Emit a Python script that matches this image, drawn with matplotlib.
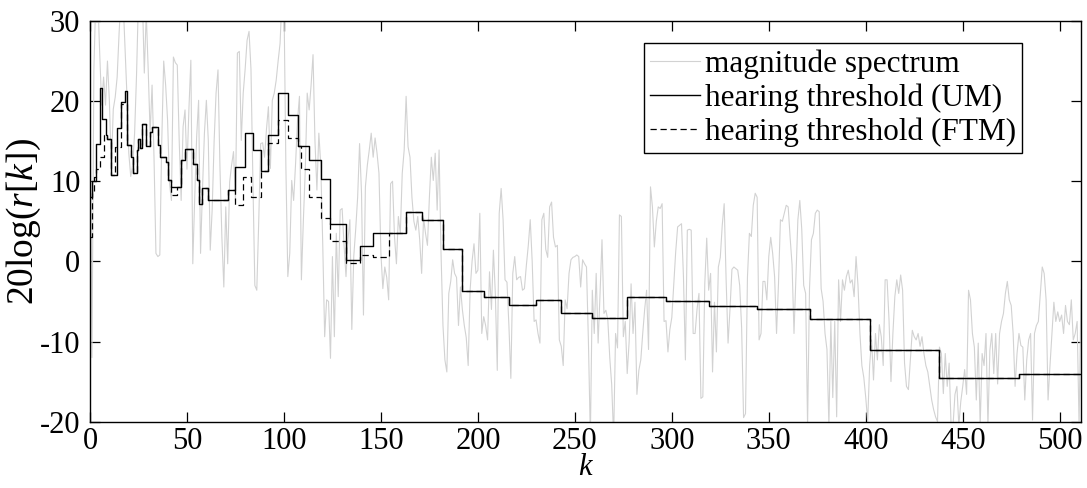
import numpy as np
import matplotlib
matplotlib.use("Agg")
import matplotlib.pyplot as plt

plt.rcParams['font.family'] = ['Liberation Serif', 'DejaVu Serif']
plt.rcParams['mathtext.fontset'] = 'custom'
plt.rcParams['mathtext.rm'] = 'Liberation Serif'
plt.rcParams['mathtext.it'] = 'Liberation Serif:italic'
plt.rcParams['axes.unicode_minus'] = False

# magnitude spectrum in dB, one value per bin k = 0..511
spec_db = [
    22, -12, 24, 33, 33, 26, 19.5, 23, 19.5, 25,
    20, 11.5, 19, 20.5, 23, 28.5, 33, 33, 27, 21,
    13.5, 10.6, 12, 16, 23.3, 33, 33, 33, 23.5, 31,
    24, 16, 22, 13, 1, 0.6, 0.8, 15, 25, 22,
    17.6, 9.7, 7.6, 25.5, 24.8, 24.5, 15, 7.6, 16.8, 18.9,
    11.5, 19, 25.1, -0.3, 8, 15.6, 20.1, 1, 9, 16,
    20.1, 15.1, 1.4, 6.5, 15, 21, 23.9, 11.8, 3, -3.2,
    6.8, -0.3, 9.9, 12, 13.7, 7.6, 26, 26.2, 15.1, 21,
    24, 27.6, 28.7, 24, 10, -3, -3.6, 5, 14.7, 14.8,
    13, 16.5, 19.3, 11.6, 20.1, 21, 22.6, 25, 27.2, 33,
    33, 11.8, -1.9, 1, 10.1, 7.6, 12.2, 17.6, 20.6, -2.3,
    5, 11.4, 21, 18.9, 22, 25.8, 15, 8.9, 16, 12,
    2.2, -9.4, -4.8, -5, -12.1, 0.6, -9.4, 3.5, -4.4, 6.4,
    6.6, 2, -1.9, 2.7, 5.2, -8.5, 0.6, 4, 8, 14.7,
    8.5, -6.7, 9.3, 12, 13.9, 16, 13, 15.4, 13.5, 11,
    1, -3.4, -0.7, -2, -4.8, 9.7, 10, 3.1, -0.3, 5.6,
    3.5, 11, 13.9, 20.6, 14.3, 13, 8, 5, 3.9, 5.6,
    2.7, -1.5, 5.4, 3.5, 2, 8, 13, 10.1, 13.5, 6.4,
    13.9, 1, -8, -12.3, -13.8, -4, -2.5, 0.2, -1.5, -2,
    -8, -3.2, -6, -8, -9.5, -13, -3.6, 0, 2.2, -1.5,
    -1.1, 6, -9, -6.9, -8, -9.8, -1.3, -6, 1.4, -4,
    -13.6, 6, 9.1, 5.2, -2.3, -2.6, -8, -14.6, -1.5, 0.6,
    -2.3, -2, -1.9, -3.6, -3.4, -0.5, 2, 5.2, 0, -7.5,
    -7.3, -9, -10.2, 5.2, 6, 1.5, 0.5, 6.8, 7.4, 3,
    1.8, 2, -9.8, -10.6, -13, -4.8, -5.9, -1.5, 0.2, 0.5,
    0.6, 0.8, 0.6, -3.2, 0.2, -0.3, -0.7, -10, -22, -3.6,
    -9, -1.5, -10.2, -4, 2.7, -6.5, -6.1, -7.3, -12, -15.4,
    -22, -9, -10.8, 5.8, 5.6, -9.4, -7.5, -14, -10, -2.8,
    -9, -5.1, -16.6, -13.6, -12.3, -9, -6, -3.6, -11, 9.3,
    6.8, 1.8, 5, 6.8, 6.6, 7.2, -7.5, -7.4, -11.3, -8.5,
    -7, -3, 1.2, 4.3, 4.5, 4.7, -1.9, -12.3, 3.9, 4,
    3.9, -9, -9, -6, -4, -17.1, -16.9, -2.8, 2.9, -3.6,
    -1.5, -13.8, -5.1, -11.3, -0.7, 0.5, 4.5, 7.2, -2.3, -10.2,
    -6, -1, -0.7, -0.9, -1.1, -3, -8.3, -19.5, -19, -2,
    3.5, 3.1, 7, 8.5, 8, -9.8, -9, -2.5, -2.5, -4.8,
    0.6, 3, 1, -1.9, -9, -2.8, 5.2, 5, 6, 7,
    6.8, 3, -0.4, -9, -1.9, 5.2, 7.6, 4, -3, -4,
    -20.5, -3.4, 2.7, 3.5, 6, 6.4, 6.2, -3.4, -5, -9,
    -11, -20.5, -7.5, -17, -7.5, -19.4, -2.3, -7.5, -2.3, -3.6,
    -1.9, -1.1, -2.7, -2.3, -4.4, 0.6, -3, -9, -13, -14.5,
    -17, -20, -13, -9.8, -14.8, -9, -12.3, -7.9, -9.4, -13,
    -2.3, -2.3, -7.3, -15, -9, -4.4, -2.3, -4, -1.7, -3.6,
    -12.7, -15.6, -16, -12.3, -8.6, -9.4, -9.8, -9, -10.6, -9.4,
    -11.5, -13, -13.8, -15.6, -17.3, -18.5, -19.4, -20, -10.7, -11.5,
    -16.5, -11.5, -15.6, -12.7, -20.5, -20.5, -16.6, -15.6, -20.5, -17.5,
    -15.6, -13.5, -16.6, -3.6, -4.8, -9, -10.7, -17.3, -10.2, -20.5,
    -11.5, -13, -9, -20.5, -11.1, -9, -14, -9, -15.3, -9,
    -7.5, -6.5, -4, -2.5, -4.8, -5.5, -9, -15.6, -11.5, -9,
    -10.5, -10.7, -17.3, -12.3, -9.8, -9, -19.8, -9, -8, -7.5,
    -4, -0.7, -1.5, -4.8, -17.3, -13, -9, -5.1, -7.5, -6.3,
    -7.5, -6.7, -9, -5.5, -7.5, -7.9, -4.8, -9.8, -9, -7.5,
    -20.5, -3.6,
]
assert len(spec_db) == 512

# hearing threshold (UM): step start bin and level in dB
um_k = [0, 1, 3, 5, 6, 8, 9, 11, 14, 16, 18, 19, 21, 22, 24, 25, 26, 27, 29, 31,
        32, 35, 36, 39, 40, 42, 47, 49, 53, 55, 56, 58, 61, 71, 75, 80, 84, 88, 92, 97,
        102, 107, 113, 119, 124, 132, 139, 146, 163, 171, 182, 192, 203, 216, 230, 243,
        259, 277, 297, 319, 344, 371, 402, 438, 479]
um_db = [8.0, 10, 14.7, 21.6, 17.8, 15.8, 15.3, 10.8, 16.6, 19.9, 21.3, 14.5, 13, 11, 13.9, 15.3, 14.1, 17.1, 14.4, 16.2,
         16.8, 14.5, 13, 12.4, 10.1, 9.3, 12.6, 14, 12.2, 10.1, 7.2, 9.2, 7.7, 8.9, 11.8, 16.0, 13.9, 11.3, 15.8, 21.0,
         18.3, 14.4, 12.6, 10.3, 4.7, 0.2, 1.9, 3.5, 6.2, 5.2, 1.6, -3.7, -4.5, -5.5, -4.8, -6.5,
         -7.1, -4.5, -5.0, -5.6, -5.9, -7.2, -11.1, -14.6, -14.0]

# hearing threshold (FTM)
ftm_k = [0, 1, 2, 3, 5, 7, 9, 11, 13, 16, 19, 21, 22, 24, 25, 26, 27, 29, 31, 32,
         35, 36, 39, 40, 42, 45, 47, 49, 53, 55, 56, 58, 61, 71, 75, 79, 83, 88, 92, 97,
         102, 107, 109, 113, 119, 124, 132, 139, 146, 154, 163, 171, 182, 192, 203, 216,
         230, 243, 259, 277, 297, 319, 344, 371, 402, 438, 479]
ftm_db = [3.0, 8.5, 10.5, 11.5, 13.0, 15.8, 15.3, 10.8, 14.3, 19.7, 14.5, 13, 11, 13.9, 15.3, 14.1, 17.1, 14.4, 16.2, 16.8,
          14.5, 13, 12.4, 10.1, 8.3, 9.3, 12.6, 14, 12.2, 10.1, 7.2, 9.2, 7.7, 8.9, 7.0, 10.5, 8.0, 11.3, 14.8, 17.7,
          15.4, 14.4, 11.5, 8.0, 5.4, 2.6, -0.2, 0.8, 0.5, 3.5, 6.2, 5.2, 1.6, -3.7, -4.5, -5.5,
          -4.8, -6.5, -7.1, -4.5, -5.0, -5.6, -5.9, -7.2, -11.1, -14.6, -14.0]

k_max = 511

fig = plt.figure(figsize=(10.87, 4.88), dpi=100)
ax = fig.add_axes([0.0828, 0.136, 0.9117, 0.821])

ax.plot(np.arange(len(spec_db)), spec_db, color='#d2d2d2', lw=0.8, label='magnitude spectrum')
ax.step(um_k + [k_max], um_db + [um_db[-1]], where='post', color='black', lw=1.0,
        label='hearing threshold (UM)')
ax.step(ftm_k + [k_max], ftm_db + [ftm_db[-1]], where='post', color='black', lw=0.9,
        ls=(0, (5, 3)), label='hearing threshold (FTM)')

ax.set_xlim(0, k_max)
ax.set_ylim(-20, 30)
ax.set_xticks(np.arange(0, 501, 50))
ax.set_yticks(np.arange(-20, 31, 10))
ax.tick_params(direction='in', length=7, width=0.9, top=True, right=True, labelsize=22)
ax.tick_params(axis='x', pad=4)
ax.tick_params(axis='y', pad=7)
for s in ax.spines.values():
    s.set_linewidth(1.0)

ax.set_xlabel(r'$\mathit{k}$', fontsize=22, labelpad=-2)
ax.set_ylabel(r'20log($\mathit{r}$[$\mathit{k}$])', fontsize=27)
ax.yaxis.set_label_coords(-0.047, 0.5)

leg = ax.legend(loc='upper right', bbox_to_anchor=(0.9405, 0.945), borderaxespad=0,
                fontsize=22.5, frameon=True, fancybox=False, edgecolor='black',
                framealpha=1, borderpad=0.2, labelspacing=0.15, handlelength=1.6,
                handletextpad=0.15)
leg.get_frame().set_linewidth(1.0)

fig.savefig('out.png', dpi=100)
